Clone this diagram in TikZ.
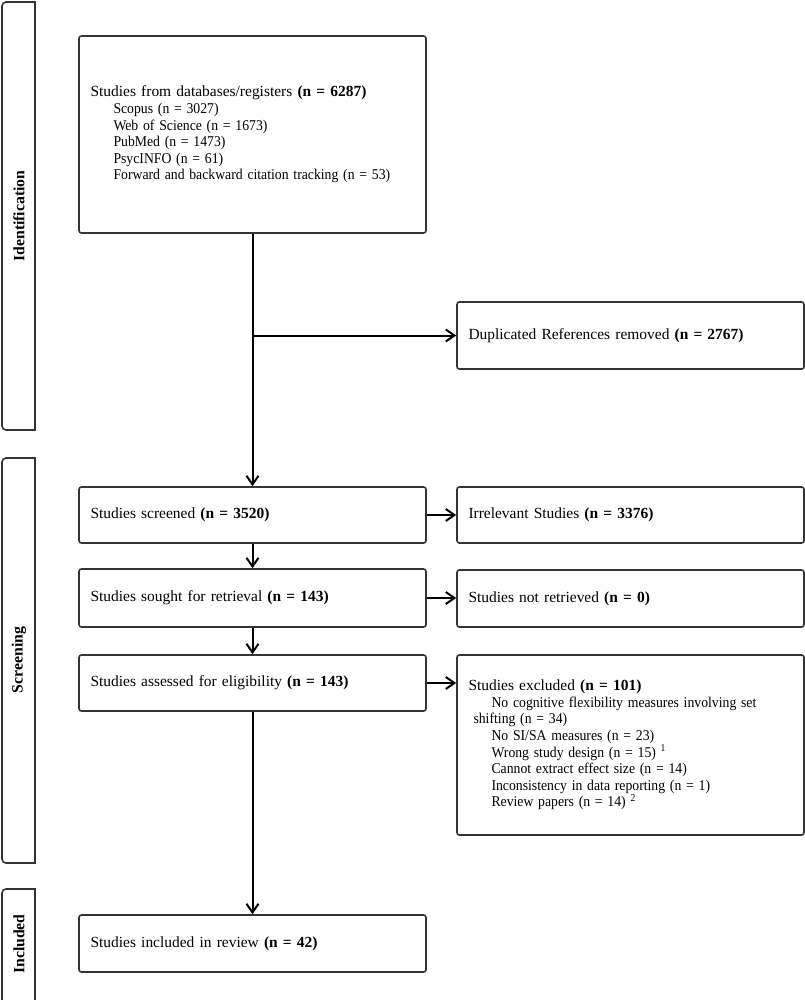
\documentclass[tikz,border=0pt]{standalone}
\usepackage{fontspec}
\usepackage{graphicx}
\setmainfont{Liberation Serif}
\usetikzlibrary{arrows.meta}
\definecolor{boxline}{HTML}{333333}
\tikzset{
  box/.style={draw=boxline, line width=1.2pt, rounded corners=1.8pt, minimum width=260.25pt,
    text width=243pt, inner xsep=8.6pt, inner ysep=0pt, align=left, anchor=center,
    font=\fontsize{11.6pt}{12.45pt}\selectfont},
  arr/.style={line width=1.5pt, draw=black, -{Straight Barb[length=6.5pt,width=9pt,line width=1.5pt]}},
  bandline/.style={draw=boxline, line width=1.2pt},
  bandlabel/.style={rotate=90, font=\fontsize{11.8pt}{12.5pt}\selectfont\bfseries, inner sep=0pt}
}
\newcommand{\ind}{\hspace*{17.25pt}}
\newcommand{\subl}[1]{\scalebox{0.92}[1]{\fontsize{11.2pt}{12.45pt}\selectfont #1}}
\begin{document}
\begin{tikzpicture}[x=0.75pt, y=-0.75pt]
\useasboundingbox (0,0) rectangle (805,1000);
\fill[white] (0,0) rectangle (805,1000);
\clip (0,0) rectangle (805,1000);

% side bands (left corners rounded, right corners square)
\begin{scope}
  \clip (-5,-5) rectangle (35,1010);
  \draw[bandline, rounded corners=3pt] (2,2) rectangle (60,430);
  \draw[bandline, rounded corners=3pt] (2,458) rectangle (60,863);
  \draw[bandline, rounded corners=3pt] (2,889) rectangle (60,1040);
\end{scope}
\draw[bandline] (35,1.4) -- (35,430.6);
\draw[bandline] (35,457.4) -- (35,863.6);
\draw[bandline] (35,888.4) -- (35,1005);

\node[bandlabel] (lid) at (19,216) {Identification};
\node[bandlabel] (lsc) at (19,660) {Screening};
\node[bandlabel] (lin) at (19,944) {Included};

% left column
\node[box, minimum height=147.75pt] (main) at (252.5,134.5) {Studies from databases/registers \textbf{(n = 6287)}\\
\ind\subl{Scopus (n = 3027)}\\
\ind\subl{Web of Science (n = 1673)}\\
\ind\subl{PubMed (n = 1473)}\\
\ind\subl{PsycINFO (n = 61)}\\
\ind\subl{Forward and backward citation tracking (n = 53)}};

\node[box, minimum height=42pt] (screened) at (252.5,515) {Studies screened \textbf{(n = 3520)}};
\node[box, minimum height=43.5pt] (sought) at (252.5,598) {Studies sought for retrieval \textbf{(n = 143)}};
\node[box, minimum height=42pt] (assessed) at (252.5,683) {Studies assessed for eligibility \textbf{(n = 143)}};
\node[box, minimum height=42.75pt] (included) at (252.5,943.5) {Studies included in review \textbf{(n = 42)}};

% right column
\node[box, minimum height=50.25pt] (dup) at (630.5,335.5) {Duplicated References removed \textbf{(n = 2767)}};
\node[box, minimum height=42pt] (irr) at (630.5,515) {Irrelevant Studies \textbf{(n = 3376)}};
\node[box, minimum height=42.75pt] (notret) at (630.5,598.5) {Studies not retrieved \textbf{(n = 0)}};
\node[box, minimum height=135pt] (excl) at (630.5,745) {Studies excluded \textbf{(n = 101)}\\
\ind\subl{No cognitive flexibility measures involving set}\\
\hspace*{3.75pt}\subl{shifting (n = 34)}\\
\ind\subl{No SI/SA measures (n = 23)}\\
\ind\subl{Wrong study design (n = 15) \textsuperscript{1}}\\
\ind\subl{Cannot extract effect size (n = 14)}\\
\ind\subl{Inconsistency in data reporting (n = 1)}\\
\ind\subl{Review papers (n = 14) \textsuperscript{2}}};

% connectors
\draw[arr] (main.south) -- (screened.north);
\coordinate (branch) at (main.south |- dup.west);
\draw[arr] (branch) -- (dup.west);
\draw[arr] (screened.south) -- (sought.north);
\draw[arr] (sought.south) -- (assessed.north);
\draw[arr] (assessed.south) -- (included.north);
\draw[arr] (screened.east) -- (irr.west);
\draw[arr] (sought.east) -- (sought.east -| notret.west);
\draw[arr] (assessed.east) -- (assessed.east -| excl.west);
\end{tikzpicture}
\end{document}
